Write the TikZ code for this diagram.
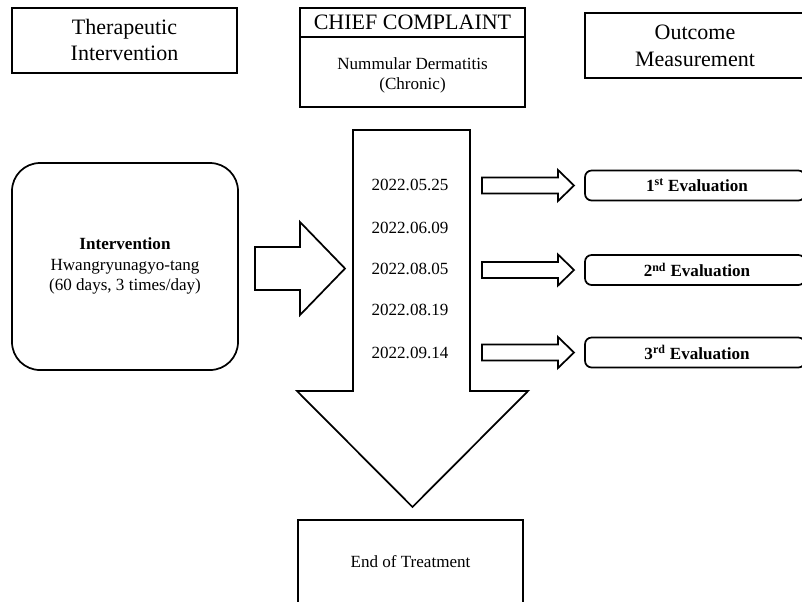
\documentclass[tikz,border=0pt]{standalone}
\usepackage{fontspec}
\setmainfont{Liberation Serif}
\begin{document}
\begin{tikzpicture}[x=0.75pt,y=-0.75pt,
  line width=1.3pt,
  hdr/.style={font=\fontsize{16.5}{20}\selectfont, align=center},
  txt/.style={font=\fontsize{12.8}{15.5}\selectfont, align=center},
  bold/.style={font=\fontsize{12.8}{15.5}\selectfont\bfseries, align=center},
  box/.style={draw=black, fill=white, inner sep=0pt},
  blockarrow/.style={draw=black, fill=white, line join=miter}
]
\clip (0,0) rectangle (802,601);
\fill[white] (0,0) rectangle (802,601);

% header boxes
\node[box, minimum width=168.75pt, minimum height=48.75pt] (ther) at (124.5,40.5) {};
\node[hdr] (thert) at (124.5,40) {Therapeutic\\Intervention};

\node[box, minimum width=168.75pt, minimum height=21.75pt] (chiefhead) at (412.5,22.5) {};
\node[hdr] (chiefht) at (412.5,22.5) {CHIEF COMPLAINT};
\node[box, minimum width=168.75pt, minimum height=52.5pt] (chiefbody) at (412.5,72) {};
\node[txt] (chiefbt) at (412.5,75.5) {Nummular Dermatitis\\(Chronic)};

\node[box, minimum width=165pt, minimum height=48.75pt] (outc) at (695,45.5) {};
\node[hdr] (outct) at (695,46) {Outcome\\Measurement};

% intervention box
\node[box, rounded corners=21pt, minimum width=169.5pt, minimum height=155.25pt] (interv) at (125,266.5) {};
\node[txt] (intervt) at (125,266) {\textbf{Intervention}\\Hwangryunagyo-tang\\(60 days, 3 times/day)};

% left block arrow
\draw[blockarrow] (255,247) -- (300,247) -- (300,222) -- (345,268.5) -- (300,315) -- (300,290) -- (255,290) -- cycle;

% big down arrow
\draw[blockarrow] (353,130) -- (470,130) -- (470,391) -- (528,391) -- (412.5,507) -- (297,391) -- (353,391) -- cycle;

% dates
\node[txt] (d1) at (410,185) {2022.05.25};
\node[txt] (d2) at (410,228) {2022.06.09};
\node[txt] (d3) at (410,269) {2022.08.05};
\node[txt] (d4) at (410,310) {2022.08.19};
\node[txt] (d5) at (410,353) {2022.09.14};

% small arrows and evaluation boxes
\foreach \yc/\n/\lab in {185.5/1/{1\textsuperscript{st} Evaluation},270/2/{2\textsuperscript{nd} Evaluation},352.5/3/{3\textsuperscript{rd} Evaluation}}{
  \draw[blockarrow] (482,\yc-8) -- (558,\yc-8) -- (558,\yc-15.5) -- (574,\yc) -- (558,\yc+15.5) -- (558,\yc+8) -- (482,\yc+8) -- cycle;
  \node[box, rounded corners=5pt, minimum width=165pt, minimum height=22.5pt] (ev\n) at (695,\yc) {};
  \node[bold] (evt\n) at (697,\yc) {\lab};
}

% end of treatment
\node[box, minimum width=168.75pt, minimum height=63pt] (endt) at (410.5,562) {};
\node[txt] (endtt) at (410.5,562) {End of Treatment};
\end{tikzpicture}
\end{document}
